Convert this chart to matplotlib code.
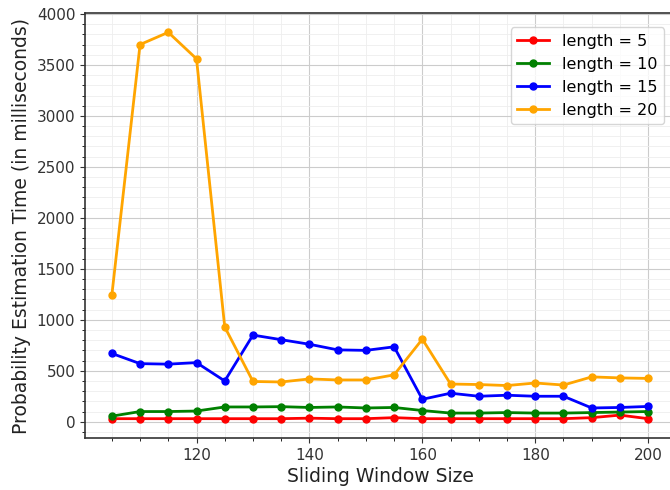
import numpy as np
import matplotlib.pyplot as plt
from matplotlib.ticker import MultipleLocator

window = np.arange(105, 201, 5)

len5 = [30, 30, 30, 30, 30, 30, 30, 35, 30, 30,
        40, 30, 30, 30, 30, 30, 30, 40, 65, 30]
len10 = [55, 100, 100, 105, 145, 145, 148, 140, 145, 135,
         140, 110, 85, 85, 90, 85, 85, 90, 95, 100]
len15 = [670, 570, 565, 580, 400, 850, 805, 760, 705, 700,
         735, 220, 280, 250, 260, 250, 250, 135, 140, 150]
len20 = [1240, 3700, 3820, 3560, 930, 395, 390, 420, 410, 410,
         460, 810, 370, 365, 355, 380, 360, 440, 430, 425]

fig = plt.figure(figsize=(6.7, 4.9), dpi=100)
ax = fig.add_axes([85 / 670, 52 / 490, 590 / 670, 425 / 490])

ax.plot(window, len5, color="red", marker="o", markersize=5, linewidth=2, label="length = 5")
ax.plot(window, len10, color="green", marker="o", markersize=5, linewidth=2, label="length = 10")
ax.plot(window, len15, color="blue", marker="o", markersize=5, linewidth=2, label="length = 15")
ax.plot(window, len20, color="orange", marker="o", markersize=5, linewidth=2, label="length = 20")

ax.xaxis.set_minor_locator(MultipleLocator(5))
ax.yaxis.set_minor_locator(MultipleLocator(100))
ax.grid(which="major", color="#cccccc", linewidth=0.8)
ax.grid(which="minor", color="#eeeeee", linewidth=0.6)
ax.set_axisbelow(True)
ax.tick_params(labelsize=11, colors="#333333")
for s in ax.spines.values():
    s.set_color("#333333")
    s.set_linewidth(1.2)

ax.set_xlabel("Sliding Window Size", fontsize=13.5, color="#222222", labelpad=3)
ax.set_ylabel("Probability Estimation Time (in milliseconds)", fontsize=13.5,
              color="#222222", labelpad=4)
ax.legend(loc="upper right", fontsize=11.5, bbox_to_anchor=(0.995, 0.985))

plt.savefig("out.png")
